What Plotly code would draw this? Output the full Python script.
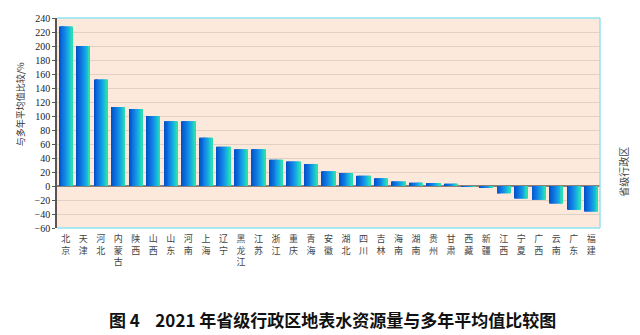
import plotly.graph_objects as go

provinces = ["北京", "天津", "河北", "内蒙古", "陕西", "山西", "山东", "河南", "上海", "辽宁",
             "黑龙江", "江苏", "浙江", "重庆", "青海", "安徽", "湖北", "四川", "吉林", "海南",
             "湖南", "贵州", "甘肃", "西藏", "新疆", "江西", "宁夏", "广西", "云南", "广东", "福建"]
values = [228, 200, 152, 113, 110, 100, 92.5, 92.5, 69, 56,
          52.5, 52.5, 37.5, 35, 31.5, 21, 18.5, 14.5, 11, 6.6,
          4.8, 4.2, 3.3, -1, -2.5, -10.5, -18, -19.5, -25, -34, -36.5]
y_ticks = list(range(-60, 241, 20))

tick_labels = ["<br>".join(list(p)) for p in provinces]
xs = list(range(len(provinces)))

# gradient simulation: slices from dark blue to teal
stops = [(0.0, (0, 78, 200)), (0.45, (18, 128, 228)), (0.75, (20, 180, 225)), (1.0, (48, 226, 168))]

def col(t):
    for i in range(len(stops) - 1):
        t0, c0 = stops[i]
        t1, c1 = stops[i + 1]
        if t <= t1:
            f = (t - t0) / (t1 - t0)
            c = [round(c0[k] + (c1[k] - c0[k]) * f) for k in range(3)]
            return "rgb(%d,%d,%d)" % tuple(c)
    return "rgb(%d,%d,%d)" % stops[-1][1]

fig = go.Figure()
N = 14
W = 0.76
sw = W / N
for k in range(N):
    t = (k + 0.5) / N
    fig.add_trace(go.Bar(
        x=xs, y=values,
        width=sw * 1.25 if k < N - 1 else sw,
        offset=-W / 2 + k * sw,
        marker=dict(color=col(t), line=dict(width=0)),
        showlegend=False, hoverinfo="skip",
    ))

fig.update_layout(
    width=640, height=335,
    margin=dict(l=57, r=40, t=12, b=107),
    paper_bgcolor="white",
    plot_bgcolor="#fce9db",
    barmode="overlay",
    font=dict(family="Noto Sans CJK SC", color="#333333"),
    xaxis=dict(
        tickmode="array", tickvals=xs, ticktext=tick_labels,
        range=[-0.5, len(provinces) - 0.5],
        showgrid=False, showline=False, zeroline=False,
        tickfont=dict(size=9, family="Noto Sans CJK SC", color="#444444"),
        ticks="", ticklabelstandoff=4,
    ),
    yaxis=dict(
        range=[-60, 240], tickmode="array", tickvals=y_ticks,
        showgrid=True, gridcolor="#e2d1c3", gridwidth=1.2,
        zeroline=True, zerolinecolor="#8c8179", zerolinewidth=1.6,
        showline=True, linecolor="#5a5550", linewidth=1.5,
        ticks="outside", ticklen=3, tickcolor="#5a5550",
        tickfont=dict(size=10, family="Liberation Serif", color="#222222"),
    ),
    shapes=[
        dict(type="line", xref="paper", yref="paper", x0=0, x1=1, y0=1, y1=1,
             line=dict(color="#8fe3f3", width=1.5)),
        dict(type="line", xref="paper", yref="paper", x0=1, x1=1, y0=0, y1=1,
             line=dict(color="#8fe3f3", width=1.5)),
        dict(type="line", xref="paper", yref="paper", x0=0, x1=1, y0=0, y1=0,
             line=dict(color="#8fe3f3", width=1.5)),
    ],
    annotations=[
        dict(text="与多年平均值比较/%", xref="paper", yref="paper", x=-0.068, y=0.59,
             textangle=-90, showarrow=False, xanchor="center", yanchor="middle",
             font=dict(size=9, family="Noto Sans CJK SC", color="#333333")),
        dict(text="省级行政区", xref="paper", yref="paper", x=1.043, y=0.27,
             textangle=-90, showarrow=False, xanchor="center", yanchor="middle",
             font=dict(size=10, family="Noto Sans CJK SC", color="#444444")),
        dict(text="<b>图 4    2021 年省级行政区地表水资源量与多年平均值比较图</b>",
             xref="paper", yref="paper", x=0.508, y=-0.435, xanchor="center", yanchor="middle",
             showarrow=False, font=dict(size=17, family="Noto Sans CJK SC", color="#111111")),
    ],
)

fig.write_html("out.html")
